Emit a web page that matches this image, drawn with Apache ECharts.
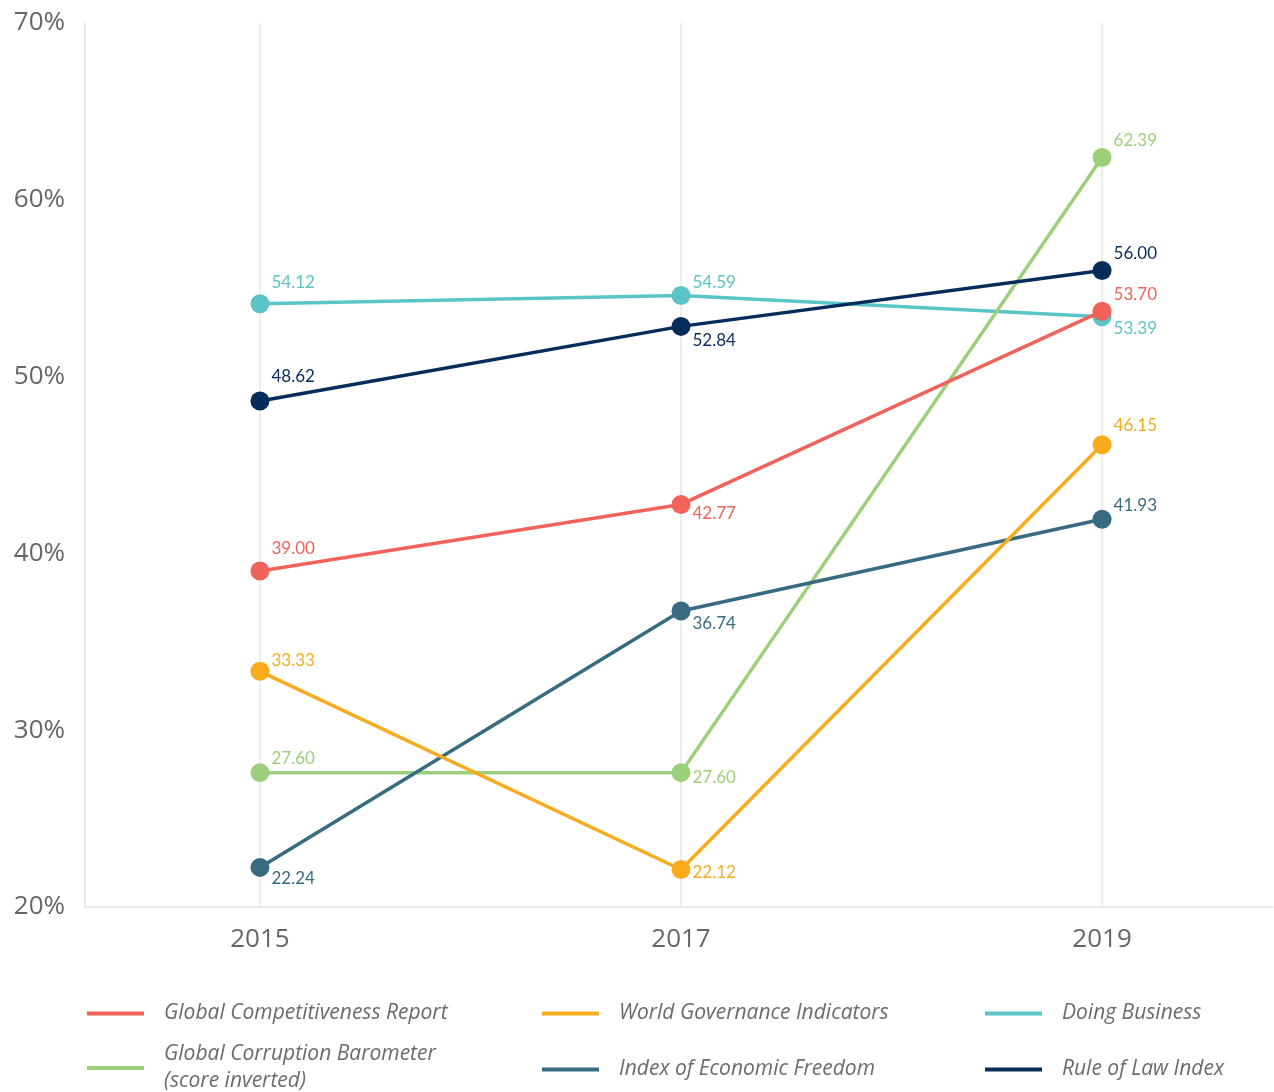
<!DOCTYPE html>
<html>
<head>
<meta charset="utf-8">
<script src="https://cdn.jsdelivr.net/npm/echarts@6/dist/echarts.min.js"></script>
<style>
  html, body { margin: 0; padding: 0; background: #fff; }
  #chart { width: 1274px; height: 1092px; }
</style>
</head>
<body>
<div id="chart"></div>
<script>
// Index scores by survey year (percent)
const years = [2015, 2017, 2019];
const yTicks = [20, 30, 40, 50, 60, 70];

const globalCompetitiveness = [39.00, 42.77, 53.70];
const worldGovernance = [33.33, 22.12, 46.15];
const doingBusiness = [54.12, 54.59, 53.39];
const corruptionBarometer = [27.60, 27.60, 62.39];
const economicFreedom = [22.24, 36.74, 41.93];
const ruleOfLaw = [48.62, 52.84, 56.00];

const names = {
  gcr: 'Global Competitiveness Report',
  wgi: 'World Governance Indicators',
  db: 'Doing Business',
  gcb: 'Global Corruption Barometer\n(score inverted)',
  ief: 'Index of Economic Freedom',
  rol: 'Rule of Law Index'
};

const FONT = 'Lato, "Open Sans", sans-serif';
const WIDE_FONT = '"Open Sans", Lato, sans-serif';

// vertical nudge of each value label, so labels clear the lines
const labelShift = {
  gcr: [-23, 9, -17],
  wgi: [-11, 3, -19],
  db: [-21, -13, 12],
  gcb: [-14, 5, -17],
  ief: [11, 12, -14],
  rol: [-24, 14, -17]
};

function makeSeries(key, values, color, z) {
  return {
    name: names[key],
    type: 'line',
    z: z,
    data: values.map((v, i) => ({
      value: [years[i], v],
      label: { offset: [0, labelShift[key][i]] }
    })),
    symbol: 'circle',
    symbolSize: 19,
    lineStyle: { width: 3.5, color: color },
    itemStyle: { color: color },
    emphasis: { disabled: true },
    label: {
      show: true,
      position: 'right',
      distance: 2,
      color: color,
      fontFamily: FONT,
      fontSize: 17,
      formatter: p => p.value[1].toFixed(2)
    }
  };
}

const series = [
  makeSeries('db', doingBusiness, '#5bc4c7', 2),
  makeSeries('gcb', corruptionBarometer, '#9ccf7a', 3),
  makeSeries('ief', economicFreedom, '#376b82', 4),
  makeSeries('wgi', worldGovernance, '#f9ab1e', 5),
  makeSeries('gcr', globalCompetitiveness, '#f0625a', 6),
  makeSeries('rol', ruleOfLaw, '#062c5c', 7)
];

// legend laid out as a 3 x 2 table
const legendSlots = [
  { key: 'gcr', left: 87, top: 1000 },
  { key: 'wgi', left: 542, top: 1000 },
  { key: 'db', left: 985, top: 1000 },
  { key: 'gcb', left: 87, top: 1041 },
  { key: 'ief', left: 542, top: 1056 },
  { key: 'rol', left: 985, top: 1056 }
];

const legends = legendSlots.map(s => ({
  data: [names[s.key]],
  left: s.left,
  top: s.top,
  padding: 0,
  icon: 'rect',
  itemWidth: 57,
  itemHeight: 4,
  itemGap: 0,
  selectedMode: false,
  textStyle: {
    fontFamily: WIDE_FONT,
    fontStyle: 'italic',
    fontSize: 21,
    color: '#6b6b6b',
    lineHeight: 27,
    padding: [0, 0, 0, 15]
  }
}));

const chart = echarts.init(document.getElementById('chart'), null, { renderer: 'canvas' });
chart.setOption({
  backgroundColor: '#ffffff',
  animation: false,
  grid: { left: 85, right: 1, top: 23, bottom: 185, containLabel: false },
  legend: legends,
  xAxis: {
    type: 'value',
    min: 2014.169,
    max: 2019.812,
    axisLine: { show: true, lineStyle: { color: '#e3e3e3', width: 1.5 } },
    axisTick: { show: false, customValues: years },
    axisLabel: {
      customValues: years,
      color: '#666666',
      fontFamily: WIDE_FONT,
      fontSize: 26,
      margin: 20,
      formatter: v => String(v)
    },
    splitLine: { show: true, lineStyle: { color: '#e8e8e8', width: 1.5 } }
  },
  yAxis: {
    type: 'value',
    min: yTicks[0],
    max: yTicks[yTicks.length - 1],
    interval: 10,
    axisLine: { show: true, lineStyle: { color: '#e3e3e3', width: 1.5 } },
    axisTick: { show: false },
    splitLine: { show: false },
    axisLabel: {
      color: '#666666',
      fontFamily: WIDE_FONT,
      fontSize: 26,
      margin: 20,
      formatter: '{value}%'
    }
  },
  series: series
});
</script>
</body>
</html>
